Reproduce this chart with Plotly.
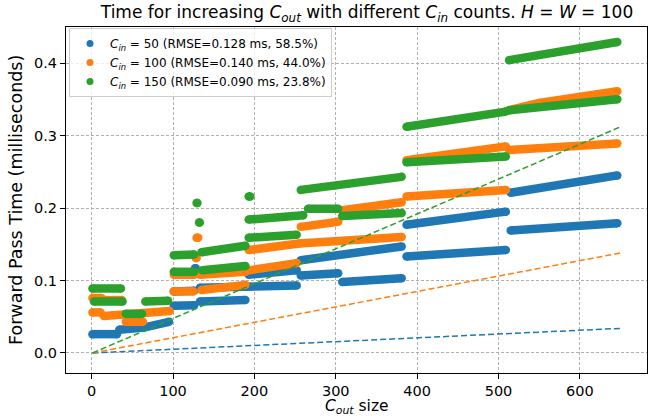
import plotly.graph_objects as go

# Input-channel counts and fit quality of the linear cost model
c_in = [50, 100, 150]
rmse_ms = [0.128, 0.140, 0.090]
rmse_pct = [58.5, 44.0, 23.8]
colors = ["#1f77b4", "#ff7f0e", "#2ca02c"]

# Measured forward-pass times (ms) vs C_out; None separates the plateaus
cout_50 = [1, 31, None, 34, 64, 95, None, 101, 126, None, 101, 126, None,
           133, 189, None, 133, 252, None, 193, 252, None, 257, 303, None,
           308, 381, None, 257, 381, None, 387, 509, None, 387, 509, None,
           515, 646, None, 515, 646, None, 127, 128]
time_50 = [0.026, 0.026, None, 0.032, 0.035, 0.043, None, 0.065, 0.066, None, 0.085, 0.086, None,
           0.071, 0.073, None, 0.090, 0.093, None, 0.108, 0.114, None, 0.107, 0.110, None,
           0.098, 0.103, None, 0.128, 0.147, None, 0.133, 0.142, None, 0.177, 0.195, None,
           0.169, 0.179, None, 0.221, 0.245, None, 0.117, 0.117]

cout_100 = [1, 12, None, 15, 37, None, 1, 11, None, 15, 96, None, 42, 63, None,
            101, 126, None, 101, 125, None, 133, 189, None, 135, 189, None,
            193, 255, 381, None, 193, 252, None, 257, 303, None, 308, 381, None,
            387, 509, None, 387, 509, None, 513, 646, None, 513, 550, 646, None,
            129, 131, None, 128, 129]
time_100 = [0.076, 0.076, None, 0.073, 0.073, None, 0.056, 0.056, None, 0.051, 0.058, None, 0.043, 0.043, None,
            0.108, 0.108, None, 0.085, 0.085, None, 0.108, 0.112, None, 0.087, 0.094, None,
            0.142, 0.151, 0.160, None, 0.114, 0.124, None, 0.174, 0.181, None, 0.197, 0.208, None,
            0.216, 0.225, None, 0.266, 0.285, None, 0.280, 0.289, None, 0.335, 0.345, 0.361, None,
            0.159, 0.159, None, 0.131, 0.131]

cout_150 = [1, 36, None, 3, 38, None, 42, 62, None, 66, 94, None, 101, 126, None,
            135, 189, None, 101, 126, None, 136, 189, None, 193, 260, None, 193, 252, None,
            257, 381, None, 266, 303, None, 308, 381, None, 387, 509, None, 387, 509, None,
            513, 646, None, 513, 646, None, 129, 130, None, 132, 133, None, 193, 195]
time_150 = [0.089, 0.089, None, 0.071, 0.071, None, 0.054, 0.054, None, 0.071, 0.072, None, 0.135, 0.136, None,
            0.139, 0.148, None, 0.112, 0.112, None, 0.114, 0.120, None, 0.184, 0.190, None, 0.159, 0.163, None,
            0.225, 0.243, None, 0.199, 0.199, None, 0.189, 0.193, None, 0.312, 0.333, None, 0.263, 0.271, None,
            0.404, 0.429, None, 0.335, 0.350, None, 0.207, 0.207, None, 0.180, 0.180, None, 0.216, 0.216]

# Linear model predictions (ms) at the ends of the C_out range
fit_cout = [1, 650]
fit_50 = [0.0, 0.034]
fit_100 = [0.0, 0.138]
fit_150 = [0.0, 0.312]

FONT = "DejaVu Sans"
BAND = 8.5

measured = [(cout_50, time_50), (cout_100, time_100), (cout_150, time_150)]
fits = [fit_50, fit_100, fit_150]

fig = go.Figure()

for (xs, ys), col in zip(measured, colors):
    fig.add_trace(go.Scatter(
        x=xs, y=ys, mode="lines+markers", showlegend=False, hoverinfo="skip",
        line=dict(color=col, width=BAND), marker=dict(color=col, size=BAND),
        connectgaps=False,
    ))

for fy, col in zip(fits, colors):
    fig.add_trace(go.Scatter(
        x=fit_cout, y=fy, mode="lines", showlegend=False, hoverinfo="skip",
        line=dict(color=col, width=1.5, dash="6px,3px"),
    ))

for c, r, p, col in zip(c_in, rmse_ms, rmse_pct, colors):
    fig.add_trace(go.Scatter(
        x=[None], y=[None], mode="markers", marker=dict(color=col, size=7),
        name=f"<i>C</i><sub><i>in</i></sub> = {c} (RMSE={r:.3f} ms, {p:.1f}%)",
    ))

axis_common = dict(
    showline=True, mirror=True, linecolor="black", linewidth=1,
    ticks="outside", ticklen=5, tickcolor="black", tickwidth=1,
    showgrid=True, gridcolor="#b0b0b0", gridwidth=1, griddash="3px,2px",
    zeroline=False, tickfont=dict(family=FONT, size=14.5, color="black"),
)

fig.update_layout(
    width=657, height=417,
    margin=dict(l=66, r=10, t=27, b=44),
    paper_bgcolor="white", plot_bgcolor="white",
    font=dict(family=FONT, color="black"),
    title=dict(
        text="Time for increasing <i>C</i><sub><i>out</i></sub> with different "
             "<i>C</i><sub><i>in</i></sub> counts. <i>H</i> = <i>W</i> = 100",
        font=dict(family=FONT, size=17, color="black"),
        xref="container", x=367 / 657, xanchor="center",
        yref="container", y=1 - 12 / 417, yanchor="middle",
    ),
    xaxis=dict(range=[-31.5, 682.5], tickvals=[0, 100, 200, 300, 400, 500, 600], **axis_common),
    yaxis=dict(range=[-0.0276, 0.4497], tickvals=[0.0, 0.1, 0.2, 0.3, 0.4], tickformat=".1f", **axis_common),
    legend=dict(
        x=3 / 581, y=1 - 1 / 346, xanchor="left", yanchor="top",
        bgcolor="rgba(255,255,255,0.8)", bordercolor="#cccccc", borderwidth=1,
        font=dict(family=FONT, size=12, color="black"),
    ),
    annotations=[
        dict(text="<i>C</i><sub><i>out</i></sub> size", xref="paper", yref="paper",
             x=0.5, y=(373 - 407) / 346, xanchor="center", yanchor="middle",
             showarrow=False, font=dict(family=FONT, size=15.5, color="black")),
        dict(text="Forward Pass Time (milliseconds)", xref="paper", yref="paper",
             x=(16 - 66) / 581, y=0.5, xanchor="center", yanchor="middle", textangle=-90,
             showarrow=False, font=dict(family=FONT, size=17.5, color="black")),
    ],
)

fig.write_html("out.html")
